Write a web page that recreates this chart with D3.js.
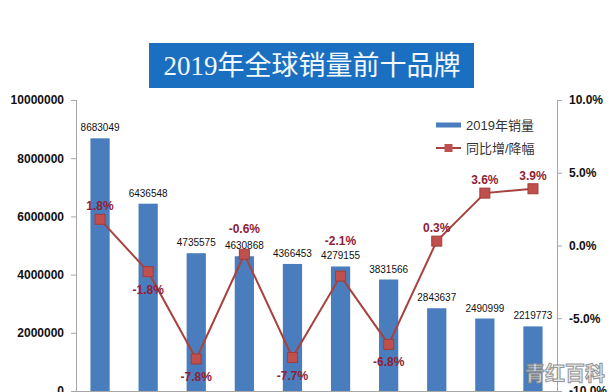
<!DOCTYPE html>
<html>
<head>
<meta charset="utf-8">
<script src="https://cdn.jsdelivr.net/npm/d3@7"></script>
<style>
	body { margin: 0; background: #fff; }
	svg { display: block; }
	.axis path, .axis line { stroke: #a6a6a6; }
	.axis text { font-family: Arial, "Liberation Sans", sans-serif; font-weight: bold; font-size: 12px; fill: #111; }
</style>
</head>
<body>
<svg id="chart" width="614" height="392"></svg>
<script>
// chart data
var brands = ['b1', 'b2', 'b3', 'b4', 'b5', 'b6', 'b7', 'b8', 'b9', 'b10'];
var sales = [8683049, 6436548, 4735575, 4630868, 4366453, 4279155, 3831566, 2843637, 2490999, 2219773];
var change = [1.8, -1.8, -7.8, -0.6, -7.7, -2.1, -6.8, 0.3, 3.6, 3.9];
var labelSide = ['up', 'down', 'down', 'up', 'down', 'up', 'down', 'up', 'up', 'up'];
var leftTicks = [0, 2000000, 4000000, 6000000, 8000000, 10000000];
var rightTicks = [-10, -5, 0, 5, 10];
var title = '2019年全球销量前十品牌';
var legendNames = ['2019年销量', '同比增/降幅'];

var svg = d3.select('#chart');
var barColor = '#4a7dbd';
var lineColor = '#a8423f';
var markColor = '#c0504d';
var pctColor = '#8e2235';

var plotTop = 100, plotBottom = 391, plotLeft = 76, plotRight = 557;

var x = d3.scaleBand().domain(brands).range([plotLeft, plotRight]).paddingInner(0.6).paddingOuter(0.3);
var y = d3.scaleLinear().domain([0, 10000000]).range([plotBottom, plotTop]);
var y2 = d3.scaleLinear().domain([-10, 10]).range([plotBottom, plotTop]);

// percent text with a plain hyphen for the minus sign
function pct(d){
	return (d < 0 ? '-' : '') + Math.abs(d).toFixed(1) + '%';
}

// title box
svg.append('rect')
	.attr('x', 149).attr('y', 43)
	.attr('width', 325).attr('height', 45)
	.attr('fill', '#1b6fc0');
svg.append('text')
	.attr('x', 312).attr('y', 66)
	.attr('dy', '0.35em')
	.attr('text-anchor', 'middle')
	.style('font-family', '"Liberation Serif", "DejaVu Serif", "Noto Sans CJK SC", serif')
	.style('font-size', '27px')
	.attr('fill', '#f2f9ff')
	.text(title);

// axes
svg.append('g')
	.attr('class', 'axis')
	.attr('transform', 'translate(' + plotLeft + ',0)')
	.call(d3.axisLeft(y).tickValues(leftTicks).tickFormat(d3.format('d')).tickSize(5).tickPadding(7));

svg.append('g')
	.attr('class', 'axis')
	.attr('transform', 'translate(' + plotRight + ',0)')
	.call(d3.axisRight(y2).tickValues(rightTicks).tickFormat(pct).tickSize(5).tickPadding(7));

svg.selectAll('.axis .domain').attr('d', function(){
	// plain vertical line, no end caps
	return 'M0.5,' + plotTop + 'V' + plotBottom;
});

svg.append('line')
	.attr('x1', plotLeft).attr('x2', plotRight)
	.attr('y1', plotBottom + 0.5).attr('y2', plotBottom + 0.5)
	.attr('stroke', '#a6a6a6');

// bars
svg.append('g').selectAll('rect')
	.data(sales)
	.enter().append('rect')
		.attr('x', function(d, i){ return x(brands[i]); })
		.attr('y', function(d){ return y(d); })
		.attr('width', x.bandwidth())
		.attr('height', function(d){ return plotBottom - y(d); })
		.attr('fill', barColor);

svg.append('g').selectAll('text')
	.data(sales)
	.enter().append('text')
		.attr('x', function(d, i){ return x(brands[i]) + x.bandwidth() / 2; })
		.attr('y', function(d){ return y(d) - 7; })
		.attr('text-anchor', 'middle')
		.style('font-family', 'Arial, "Liberation Sans", sans-serif')
		.style('font-size', '10px')
		.attr('fill', '#111')
		.text(function(d){ return d; });

// change line
var cx = function(i){ return x(brands[i]) + x.bandwidth() / 2; };
var line = d3.line()
	.x(function(d, i){ return cx(i); })
	.y(function(d){ return y2(d); });

svg.append('path')
	.datum(change)
	.attr('d', line)
	.attr('fill', 'none')
	.attr('stroke', lineColor)
	.attr('stroke-width', 2);

svg.append('g').selectAll('rect')
	.data(change)
	.enter().append('rect')
		.attr('x', function(d, i){ return cx(i) - 5; })
		.attr('y', function(d){ return y2(d) - 5; })
		.attr('width', 10).attr('height', 10)
		.attr('fill', markColor)
		.attr('stroke', '#a33c39');

svg.append('g').selectAll('text')
	.data(change)
	.enter().append('text')
		.attr('x', function(d, i){ return cx(i); })
		.attr('y', function(d, i){
			var py = y2(d);
			if(labelSide[i] == 'down') return py + 22;
			// keep clear of the bar value label
			var barTop = y(sales[i]);
			if(Math.abs(py - barTop) < 30) return Math.min(py, barTop) - 21;
			return py - 9;
		})
		.attr('text-anchor', 'middle')
		.style('font-family', 'Arial, "Liberation Sans", sans-serif')
		.style('font-size', '12px')
		.style('font-weight', 'bold')
		.attr('fill', pctColor)
		.text(pct);

// legend
var legend = svg.append('g').attr('transform', 'translate(436,125)');
legend.append('rect')
	.attr('x', 0).attr('y', -2.5)
	.attr('width', 25).attr('height', 5)
	.attr('fill', barColor);
legend.append('line')
	.attr('x1', 0).attr('x2', 25)
	.attr('y1', 23).attr('y2', 23)
	.attr('stroke', lineColor).attr('stroke-width', 2);
legend.append('rect')
	.attr('x', 8.5).attr('y', 19)
	.attr('width', 8).attr('height', 8)
	.attr('fill', markColor);
legend.selectAll('text')
	.data(legendNames)
	.enter().append('text')
		.attr('x', 30)
		.attr('y', function(d, i){ return i * 23; })
		.attr('dy', '0.35em')
		.style('font-family', 'Arial, "Noto Sans CJK SC", sans-serif')
		.style('font-size', '13px')
		.attr('fill', '#333')
		.text(function(d){ return d; });

// watermark
svg.append('text')
	.attr('x', 525).attr('y', 381)
	.style('font-family', '"Noto Sans CJK SC", sans-serif')
	.style('font-size', '20px')
	.style('font-weight', 'bold')
	.attr('fill', '#e8e8e8')
	.attr('stroke', '#8a8a8a')
	.attr('stroke-width', 1)
	.attr('opacity', 0.9)
	.text('青红百科');
</script>
</body>
</html>
